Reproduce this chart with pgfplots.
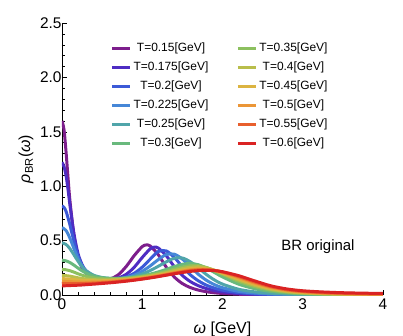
\documentclass[border=0pt]{standalone}
\usepackage{fontspec}
\setmainfont{Liberation Sans}
\usepackage{pgfplots}
\pgfplotsset{compat=1.18}
\definecolor{c1}{RGB}{125,30,140}
\definecolor{c2}{RGB}{78,45,195}
\definecolor{c3}{RGB}{60,90,215}
\definecolor{c4}{RGB}{70,135,215}
\definecolor{c5}{RGB}{80,165,170}
\definecolor{c6}{RGB}{105,185,125}
\definecolor{c7}{RGB}{140,192,95}
\definecolor{c8}{RGB}{185,190,75}
\definecolor{c9}{RGB}{220,180,65}
\definecolor{c10}{RGB}{235,150,55}
\definecolor{c11}{RGB}{232,95,45}
\definecolor{c12}{RGB}{218,35,35}
\begin{document}
\begin{tikzpicture}
\useasboundingbox (-62bp,-41bp) rectangle (341bp,295bp);
\begin{axis}[
  at={(0,0)}, anchor=south west,
  scale only axis, width=321bp, height=272bp,
  xmin=0, xmax=4, ymin=0, ymax=2.5,
  axis lines*=left,
  axis line style={line width=0.8pt},
  tick align=inside,
  major tick length=5bp, minor tick length=3bp,
  tick style={black, line width=0.5pt},
  xtick={0,1,2,3,4}, minor x tick num=4,
  ytick={0,0.5,1,1.5,2,2.5}, minor y tick num=4,
  /pgf/number format/assume math mode=true,
  yticklabel style={/pgf/number format/fixed, /pgf/number format/fixed zerofill, /pgf/number format/precision=1, xshift=3bp},
  ticklabel style={font=\fontsize{15.5}{17}\selectfont},
  xlabel={\textit{ω} [GeV]},
  ylabel={\textit{ρ}\textsubscript{BR}(\textit{ω})},
  label style={font=\fontsize{16}{18}\selectfont},
  xlabel style={at={(axis description cs:0.5,-0.125)}, anchor=center},
  ylabel style={at={(axis description cs:-0.112,0.5)}, anchor=center},
  every axis plot/.append style={line width=3pt, line join=round, smooth, no markers},
  legend image code/.code={\draw[#1] (0bp,0bp) -- (18bp,0bp);},
  legend columns=6, transpose legend,
  legend cell align=center,
  legend style={draw=none, fill=none, at={(axis cs:1.97,1.83)}, anchor=center,
    font=\fontsize{12}{14}\selectfont, row sep=3bp,
    nodes={inner sep=2pt, text height=9bp, text depth=3bp},
    /tikz/every even column/.append style={column sep=26bp}},
]
\addplot[c1] coordinates {(0,1.6)(0.025,1.52)(0.05,1.32)(0.075,1.08)(0.1,0.86)(0.15,0.54)(0.2,0.35)(0.25,0.25)(0.3,0.2)(0.4,0.158)(0.5,0.143)(0.6,0.148)(0.7,0.185)(0.8,0.262)(0.9,0.362)(1.0,0.445)(1.05,0.46)(1.1,0.45)(1.2,0.37)(1.3,0.255)(1.4,0.165)(1.5,0.105)(1.6,0.068)(1.7,0.045)(1.8,0.03)(1.9,0.02)(2.0,0.014)(2.2,0.007)(2.4,0.003)(2.6,0.002)(3.0,0.001)(4.0,0)};
\addlegendentry{T=0.15[GeV]}
\addplot[c2] coordinates {(0,1.22)(0.025,1.18)(0.05,1.1)(0.075,0.97)(0.1,0.82)(0.15,0.56)(0.2,0.38)(0.25,0.28)(0.3,0.22)(0.4,0.166)(0.5,0.148)(0.6,0.145)(0.7,0.156)(0.8,0.19)(0.9,0.255)(1.0,0.345)(1.1,0.425)(1.15,0.44)(1.2,0.432)(1.3,0.36)(1.4,0.26)(1.5,0.18)(1.6,0.123)(1.7,0.085)(1.8,0.059)(1.9,0.041)(2.0,0.029)(2.2,0.014)(2.4,0.007)(2.6,0.004)(2.8,0.002)(3.0,0.001)(4.0,0)};
\addlegendentry{T=0.175[GeV]}
\addplot[c3] coordinates {(0,0.82)(0.025,0.805)(0.05,0.77)(0.075,0.71)(0.1,0.64)(0.15,0.49)(0.2,0.36)(0.25,0.275)(0.3,0.222)(0.4,0.17)(0.5,0.151)(0.6,0.145)(0.7,0.149)(0.8,0.166)(0.9,0.2)(1.0,0.256)(1.1,0.33)(1.2,0.4)(1.3,0.405)(1.4,0.345)(1.5,0.26)(1.6,0.185)(1.7,0.13)(1.8,0.09)(1.9,0.063)(2.0,0.044)(2.2,0.022)(2.4,0.011)(2.6,0.006)(2.8,0.003)(3.0,0.002)(3.5,0.001)(4.0,0)};
\addlegendentry{T=0.2[GeV]}
\addplot[c4] coordinates {(0,0.62)(0.05,0.593)(0.1,0.52)(0.15,0.425)(0.2,0.335)(0.25,0.268)(0.3,0.222)(0.4,0.174)(0.5,0.155)(0.6,0.148)(0.7,0.149)(0.8,0.16)(0.9,0.182)(1.0,0.218)(1.1,0.268)(1.2,0.325)(1.3,0.372)(1.4,0.375)(1.5,0.33)(1.6,0.26)(1.7,0.19)(1.8,0.135)(1.9,0.095)(2.0,0.067)(2.2,0.034)(2.4,0.018)(2.6,0.01)(2.8,0.006)(3.0,0.003)(3.5,0.001)(4.0,0)};
\addlegendentry{T=0.225[GeV]}
\addplot[c5] coordinates {(0,0.48)(0.05,0.465)(0.1,0.425)(0.15,0.368)(0.2,0.31)(0.25,0.26)(0.3,0.223)(0.4,0.18)(0.5,0.161)(0.6,0.153)(0.7,0.152)(0.8,0.158)(0.9,0.171)(1.0,0.193)(1.1,0.225)(1.2,0.264)(1.3,0.305)(1.4,0.338)(1.5,0.34)(1.6,0.305)(1.7,0.248)(1.8,0.188)(1.9,0.138)(2.0,0.1)(2.2,0.053)(2.4,0.029)(2.6,0.016)(2.8,0.009)(3.0,0.005)(3.25,0.003)(3.5,0.002)(4.0,0.001)};
\addlegendentry{T=0.25[GeV]}
\addplot[c6] coordinates {(0,0.32)(0.05,0.314)(0.1,0.298)(0.15,0.274)(0.2,0.247)(0.25,0.222)(0.3,0.201)(0.4,0.173)(0.5,0.159)(0.6,0.153)(0.7,0.152)(0.8,0.156)(0.9,0.164)(1.0,0.176)(1.1,0.192)(1.2,0.212)(1.3,0.236)(1.4,0.261)(1.5,0.282)(1.6,0.29)(1.7,0.278)(1.8,0.247)(1.9,0.207)(2.0,0.166)(2.2,0.1)(2.4,0.058)(2.6,0.033)(2.8,0.019)(3.0,0.011)(3.25,0.006)(3.5,0.004)(3.75,0.003)(4.0,0.002)};
\addlegendentry{T=0.3[GeV]}
\addplot[c7] coordinates {(0,0.235)(0.05,0.232)(0.1,0.223)(0.15,0.21)(0.2,0.195)(0.25,0.182)(0.3,0.171)(0.4,0.157)(0.5,0.15)(0.6,0.148)(0.7,0.149)(0.8,0.153)(0.9,0.16)(1.0,0.17)(1.1,0.183)(1.2,0.199)(1.3,0.218)(1.4,0.238)(1.5,0.257)(1.6,0.27)(1.7,0.27)(1.8,0.253)(1.9,0.224)(2.0,0.19)(2.2,0.125)(2.4,0.077)(2.6,0.045)(2.8,0.026)(3.0,0.015)(3.25,0.009)(3.5,0.005)(3.75,0.004)(4.0,0.003)};
\addlegendentry{T=0.35[GeV]}
\addplot[c8] coordinates {(0,0.18)(0.05,0.178)(0.1,0.173)(0.15,0.166)(0.2,0.158)(0.25,0.152)(0.3,0.147)(0.4,0.141)(0.5,0.139)(0.6,0.14)(0.7,0.143)(0.8,0.148)(0.9,0.155)(1.0,0.164)(1.1,0.176)(1.2,0.19)(1.3,0.206)(1.4,0.224)(1.5,0.242)(1.6,0.256)(1.7,0.26)(1.8,0.25)(1.9,0.228)(2.0,0.198)(2.2,0.138)(2.4,0.089)(2.6,0.053)(2.8,0.031)(3.0,0.019)(3.25,0.011)(3.5,0.007)(3.75,0.005)(4.0,0.004)};
\addlegendentry{T=0.4[GeV]}
\addplot[c9] coordinates {(0,0.15)(0.05,0.149)(0.1,0.146)(0.15,0.142)(0.2,0.138)(0.25,0.135)(0.3,0.133)(0.4,0.131)(0.5,0.131)(0.6,0.133)(0.7,0.137)(0.8,0.142)(0.9,0.149)(1.0,0.158)(1.1,0.169)(1.2,0.182)(1.3,0.197)(1.4,0.213)(1.5,0.229)(1.6,0.242)(1.7,0.247)(1.8,0.24)(1.9,0.224)(2.0,0.2)(2.2,0.148)(2.4,0.099)(2.6,0.061)(2.8,0.037)(3.0,0.023)(3.25,0.014)(3.5,0.009)(3.75,0.006)(4.0,0.005)};
\addlegendentry{T=0.45[GeV]}
\addplot[c10] coordinates {(0,0.125)(0.05,0.124)(0.1,0.123)(0.15,0.121)(0.2,0.12)(0.25,0.119)(0.3,0.119)(0.4,0.12)(0.5,0.122)(0.6,0.126)(0.7,0.131)(0.8,0.137)(0.9,0.145)(1.0,0.154)(1.1,0.165)(1.2,0.177)(1.3,0.191)(1.4,0.206)(1.5,0.22)(1.6,0.232)(1.7,0.238)(1.8,0.236)(1.9,0.226)(2.0,0.208)(2.2,0.16)(2.4,0.11)(2.6,0.069)(2.8,0.043)(3.0,0.028)(3.25,0.018)(3.5,0.012)(3.75,0.009)(4.0,0.007)};
\addlegendentry{T=0.5[GeV]}
\addplot[c11] coordinates {(0,0.105)(0.05,0.105)(0.1,0.104)(0.15,0.104)(0.2,0.104)(0.25,0.105)(0.3,0.106)(0.4,0.109)(0.5,0.113)(0.6,0.118)(0.7,0.124)(0.8,0.131)(0.9,0.139)(1.0,0.149)(1.1,0.16)(1.2,0.172)(1.3,0.186)(1.4,0.2)(1.5,0.213)(1.6,0.224)(1.7,0.231)(1.8,0.232)(1.9,0.226)(2.0,0.212)(2.2,0.17)(2.4,0.12)(2.6,0.077)(2.8,0.049)(3.0,0.033)(3.25,0.022)(3.5,0.016)(3.75,0.012)(4.0,0.01)};
\addlegendentry{T=0.55[GeV]}
\addplot[c12] coordinates {(0,0.085)(0.05,0.085)(0.1,0.087)(0.15,0.088)(0.2,0.09)(0.25,0.092)(0.3,0.095)(0.4,0.1)(0.5,0.106)(0.6,0.112)(0.7,0.119)(0.8,0.127)(0.9,0.136)(1.0,0.146)(1.1,0.157)(1.2,0.169)(1.3,0.182)(1.4,0.195)(1.5,0.207)(1.6,0.217)(1.7,0.224)(1.8,0.227)(1.9,0.224)(2.0,0.214)(2.2,0.178)(2.4,0.13)(2.6,0.085)(2.8,0.056)(3.0,0.039)(3.25,0.028)(3.5,0.021)(3.75,0.017)(4.0,0.014)};
\addlegendentry{T=0.6[GeV]}
\node[font=\fontsize{15}{17}\selectfont] at (axis cs:3.19,0.44) {BR original};
\end{axis}
\end{tikzpicture}
\end{document}
